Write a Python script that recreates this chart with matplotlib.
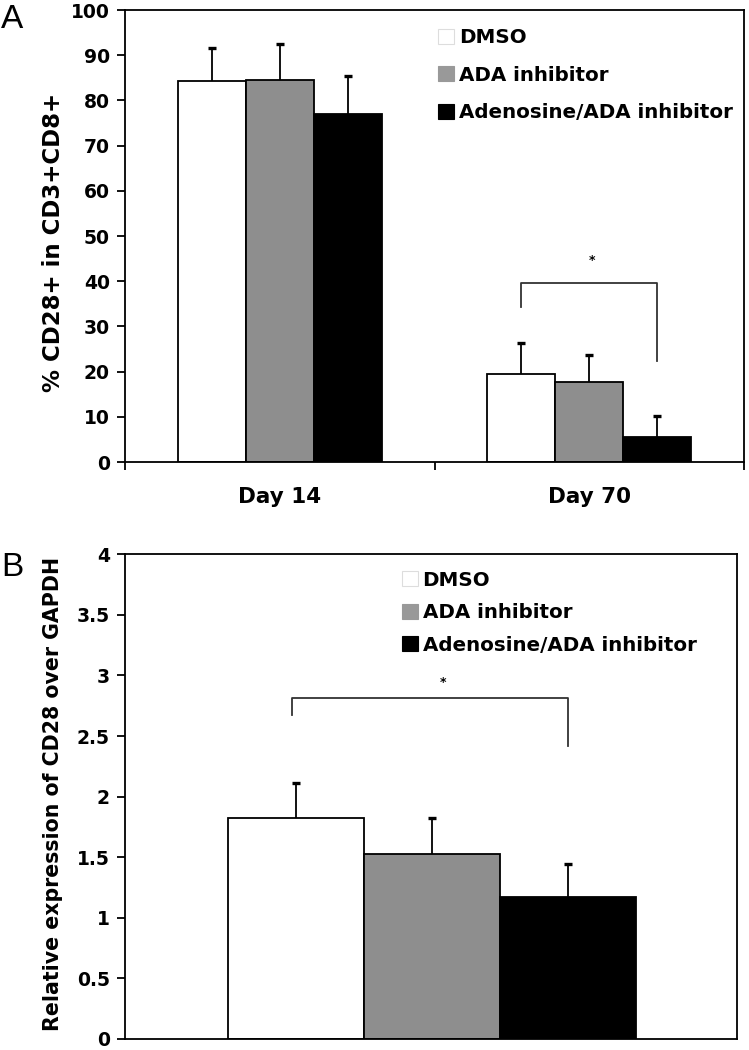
import matplotlib
matplotlib.use("Agg")
import matplotlib.pyplot as plt
from matplotlib.patches import Patch
import numpy as np

# ---------------- data ----------------
series = ["DMSO", "ADA inhibitor", "Adenosine/ADA inhibitor"]
colors = ["#ffffff", "#8e8e8e", "#000000"]
legend_colors = ["#ffffff", "#999999", "#000000"]
legend_edges = ["#dddddd", "#999999", "#000000"]

# Panel A
days = ["Day 14", "Day 70"]
a_dmso = [84.3, 19.5]
a_ada = [84.5, 17.7]
a_aden = [77.0, 5.6]
a_dmso_err = [7.4, 6.9]
a_ada_err = [8.0, 5.9]
a_aden_err = [8.3, 4.6]
a_yticks = [0, 10, 20, 30, 40, 50, 60, 70, 80, 90, 100]
a_ylabel = "% CD28+ in CD3+CD8+"

# Panel B
b_values = [1.82, 1.53, 1.17]
b_err = [0.295, 0.296, 0.274]
b_yticks = [0, 0.5, 1, 1.5, 2, 2.5, 3, 3.5, 4]
b_yticklabels = ["0", "0.5", "1", "1.5", "2", "2.5", "3", "3.5", "4"]
b_ylabel = "Relative expression of CD28 over GAPDH"

# significance brackets (annotation levels)
a_bracket = dict(top=39.7, left_end=34.4, right_end=22.3, star_y=44.5)
b_bracket = dict(top=2.81, left_end=2.67, right_end=2.42, star_y=2.94)

TICK_FS = 13.5
XLAB_FS = 15.5
LEG_FS = 14.3
plt.rcParams["font.family"] = ["DejaVu Sans"]
plt.rcParams["font.weight"] = "bold"

fig = plt.figure(figsize=(7.49, 10.5), dpi=100)

LW = 1.3


def upper_errorbars(ax, xs, ys, es):
    ys = np.asarray(ys, dtype=float)
    es = np.asarray(es, dtype=float)
    tops = ys + es
    ax.vlines(xs, ys, tops, color="black", lw=1.3, zorder=3)
    ax.plot(xs, tops, linestyle="none", marker="_", markersize=6, markeredgewidth=2.4,
            color="black", zorder=3)


# ---------------- Panel A ----------------
axA = fig.add_axes([125 / 749, 1 - 462 / 1050, 619 / 749, 452 / 1050])
x = np.arange(len(days))
w = 0.22
vals = [a_dmso, a_ada, a_aden]
errs = [a_dmso_err, a_ada_err, a_aden_err]
for i in range(3):
    xi = x + (i - 1) * w
    axA.bar(xi, vals[i], width=w, color=colors[i], edgecolor="black", linewidth=LW, zorder=2)
    upper_errorbars(axA, xi, vals[i], errs[i])

axA.set_xlim(-0.5, 1.5)
axA.set_ylim(0, 100)
axA.set_yticks(a_yticks)
axA.set_yticklabels([str(t) for t in a_yticks], fontsize=TICK_FS, fontweight="bold")
axA.set_xticks(x)
axA.set_xticklabels(days, fontsize=XLAB_FS, fontweight="bold")
axA.tick_params(axis="x", which="major", length=0, pad=18)
axA.set_xticks([-0.5, 0.5, 1.5], minor=True)
axA.tick_params(axis="x", which="minor", length=6, width=LW, direction="out")
axA.tick_params(axis="y", length=6, width=LW, direction="out", pad=5)
for s in axA.spines.values():
    s.set_linewidth(LW)
axA.set_ylabel(a_ylabel, fontsize=16.5, fontweight="bold")
axA.yaxis.set_label_coords(-0.097, 0.486)

# bracket A (from DMSO to Adenosine bar centres on Day 70)
xl = x[1] - w
xr = x[1] + w
axA.plot([xl, xl, xr, xr], [a_bracket["left_end"], a_bracket["top"], a_bracket["top"], a_bracket["right_end"]],
         color="#333333", lw=1.3, zorder=3)
axA.text((xl + xr) / 2 + 0.01, a_bracket["star_y"], "*", ha="center", va="center", fontsize=9, fontweight="bold")

handles = [Patch(facecolor=legend_colors[i], edgecolor=legend_edges[i], linewidth=0.8) for i in range(3)]
axA.legend(handles, series, loc="upper left", bbox_to_anchor=(0.5057, 0.960), frameon=False,
           prop=dict(size=LEG_FS, weight="bold"), handlelength=0.8, handleheight=0.8,
           handletextpad=0.25, labelspacing=0.94, borderpad=0, borderaxespad=0)

# ---------------- Panel B ----------------
axB = fig.add_axes([125 / 749, 1 - 1039 / 1050, 612.3 / 749, 484.7 / 1050])
xb = np.arange(len(series))
axB.bar(xb, b_values, width=1.0, color=colors, edgecolor="black", linewidth=LW, zorder=2)
upper_errorbars(axB, xb, b_values, b_err)
axB.set_xlim(-1.257, 3.243)
axB.set_ylim(0, 4)
axB.set_yticks(b_yticks)
axB.set_yticklabels(b_yticklabels, fontsize=TICK_FS, fontweight="bold")
axB.set_xticks([])
axB.tick_params(axis="y", length=6, width=LW, direction="out", pad=5)
for s in axB.spines.values():
    s.set_linewidth(LW)
axB.set_ylabel(b_ylabel, fontsize=14.8, fontweight="bold")
axB.yaxis.set_label_coords(-0.101, 0.5065)

xl = xb[0] - 0.03
xr = xb[2]
axB.plot([xl, xl, xr, xr], [b_bracket["left_end"], b_bracket["top"], b_bracket["top"], b_bracket["right_end"]],
         color="#333333", lw=1.3, zorder=3)
axB.text(1.08, b_bracket["star_y"], "*", ha="center", va="center", fontsize=9, fontweight="bold")

handlesB = [Patch(facecolor=legend_colors[i], edgecolor=legend_edges[i], linewidth=0.8) for i in range(3)]
axB.legend(handlesB, series, loc="upper left", bbox_to_anchor=(0.452, 0.966), frameon=False,
           prop=dict(size=LEG_FS, weight="bold"), handlelength=0.8, handleheight=0.8,
           handletextpad=0.25, labelspacing=0.68, borderpad=0, borderaxespad=0)

# panel letters
fig.text(1 / 749, 1 - 20 / 1050, "A", fontsize=24, fontweight="normal", family="Liberation Sans",
         ha="left", va="center")
fig.text(1 / 749, 1 - 567 / 1050, "B", fontsize=24, fontweight="normal", family="Liberation Sans",
         ha="left", va="center")

fig.savefig("out.png", dpi=100)
